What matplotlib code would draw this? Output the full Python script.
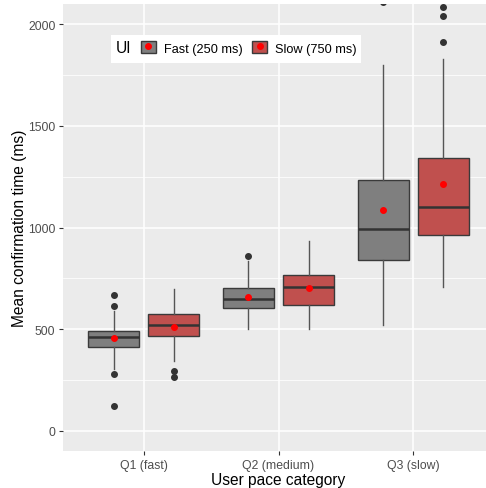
import numpy as np
import matplotlib.pyplot as plt
from matplotlib.patches import Patch, Rectangle
from matplotlib.lines import Line2D
from matplotlib.legend_handler import HandlerTuple

plt.rcParams['font.family'] = ['Liberation Sans', 'DejaVu Sans']

# Data (ms)
categories = ["Q1 (fast)", "Q2 (medium)", "Q3 (slow)"]
groups = ["Fast (250 ms)", "Slow (750 ms)"]

# per group: one entry per category
q1 = {"Fast (250 ms)": [412, 602, 842], "Slow (750 ms)": [465, 619, 961]}
med = {"Fast (250 ms)": [463, 647, 995], "Slow (750 ms)": [519, 708, 1102]}
q3 = {"Fast (250 ms)": [489, 701, 1236], "Slow (750 ms)": [573, 765, 1340]}
whislo = {"Fast (250 ms)": [304, 498, 522], "Slow (750 ms)": [345, 498, 709]}
whishi = {"Fast (250 ms)": [591, 837, 1798], "Slow (750 ms)": [698, 936, 1831]}
means = {"Fast (250 ms)": [455, 659, 1087], "Slow (750 ms)": [511, 703, 1212]}
outliers = {
    "Fast (250 ms)": [[670, 614, 279, 120], [862], [2112]],
    "Slow (750 ms)": [[292, 266], [], [2084, 2043, 1915]],
}

fills = {"Fast (250 ms)": "#7f7f7f", "Slow (750 ms)": "#c0504e"}
offsets = {"Fast (250 ms)": -0.223, "Slow (750 ms)": 0.223}
box_w = 0.38

fig = plt.figure(figsize=(4.86, 4.89), dpi=100)
W, H = 486, 489
left, right, top, bottom = 63, 494, 5, 452
ax = fig.add_axes([left / W, (H - bottom) / H, (right - left) / W, (bottom - top) / H])
ax.set_facecolor("#ebebeb")

x = np.arange(1, len(categories) + 1)
edge = "#3a3a3a"
for g in groups:
    stats = []
    for i in range(len(categories)):
        stats.append({
            "q1": q1[g][i], "med": med[g][i], "q3": q3[g][i],
            "whislo": whislo[g][i], "whishi": whishi[g][i],
            "fliers": outliers[g][i],
        })
    ax.bxp(stats, positions=x + offsets[g], widths=box_w, patch_artist=True,
           showcaps=False, manage_ticks=False,
           boxprops=dict(facecolor=fills[g], edgecolor=edge, linewidth=1.0),
           medianprops=dict(color="#333333", linewidth=1.8),
           whiskerprops=dict(color="#555555", linewidth=1.0),
           flierprops=dict(marker="o", markerfacecolor="#333333", markeredgecolor="#333333",
                           markersize=4.0),
           zorder=3)
    ax.plot(x + offsets[g], means[g], "o", color="red", markersize=4.0, zorder=5, ls="none")

ax.set_xlim(0.4, 3.6)
ax.set_ylim(-100, 2100)
ax.set_xticks(x)
ax.set_xticklabels(categories)
ax.set_yticks([0, 500, 1000, 1500, 2000])
ax.set_yticks([250, 750, 1250, 1750], minor=True)
ax.grid(True, which="major", color="white", linewidth=1.1, zorder=0)
ax.grid(True, which="minor", axis="y", color="white", linewidth=0.55, zorder=0)
ax.set_axisbelow(True)
for s in ax.spines.values():
    s.set_visible(False)
ax.tick_params(axis="both", which="major", length=3, color="#333333", labelcolor="#4d4d4d",
               labelsize=8.8, pad=2.5)
ax.tick_params(axis="y", which="minor", length=0)
ax.set_xlabel("User pace category", fontsize=11.2, color="black", labelpad=1)
ax.set_ylabel("Mean confirmation time (ms)", fontsize=11.2, color="black", labelpad=1)

# legend box with title on the left
fig.patches.append(Rectangle((111 / W, 1 - 64 / H), (361 - 111) / W, (64 - 36) / H,
                             transform=fig.transFigure, facecolor="white", edgecolor="none",
                             zorder=10))
fig.text(116 / W, 1 - 49 / H, "UI", fontsize=11.2, va="center", ha="left", zorder=11)
handles = [(Patch(facecolor=fills[g], edgecolor=edge),
            Line2D([], [], marker="o", color="red", ls="none", markersize=4))
           for g in groups]
leg = fig.legend(handles, groups, loc="center left", bbox_to_anchor=(141 / W, 1 - 49 / H),
                 ncol=2, frameon=False, fontsize=9.2, handlelength=1.15, handleheight=1.0,
                 handletextpad=0.65, columnspacing=0.75, borderaxespad=0, borderpad=0,
                 handler_map={tuple: HandlerTuple(ndivide=1)})
leg.set_zorder(12)

fig.savefig("out.png", dpi=100)
